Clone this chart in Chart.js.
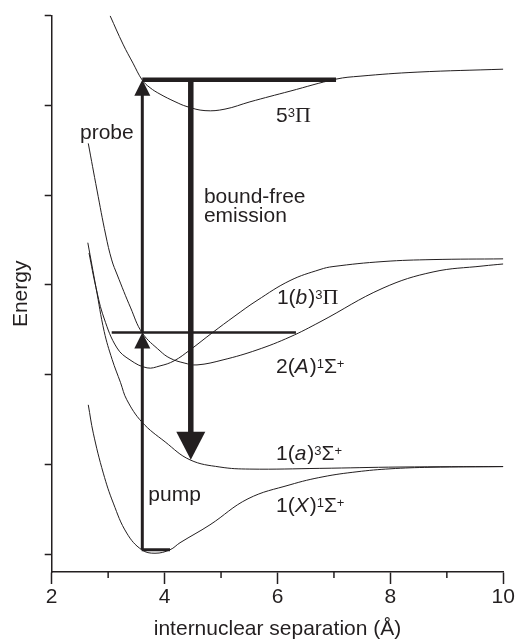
<!DOCTYPE html>
<html>
<head>
<meta charset="utf-8">
<script src="https://cdn.jsdelivr.net/npm/chart.js@4.4.0/dist/chart.umd.min.js"></script>
<style>
  html, body { margin: 0; padding: 0; background: #fff; }
</style>
</head>
<body>
<canvas id="chart" width="516" height="641"></canvas>
<script>
// axis ticks
const xTicks = [2, 3, 4, 5, 6, 7, 8, 9, 10];
const xLabelled = [2, 4, 6, 8, 10];
const yTicks = [0, 1, 2, 3, 4, 5, 6];

// potential curves: [internuclear separation (Å), energy (arb. units)]
const groundX = [[2.648, 1.663], [2.737, 1.347], [2.914, 0.902], [3.091, 0.568], [3.329, 0.234], [3.594, 0.048],
  [3.83, 0.009], [4.096, 0.048], [4.273, 0.126], [4.804, 0.326], [5.477, 0.616], [6.222, 0.772], [6.806, 0.861],
  [7.408, 0.917], [7.993, 0.95], [8.702, 0.967], [10, 0.975]];
const tripletA = [[2.64, 3.47], [2.785, 2.97], [2.93, 2.48], [3.07, 2.17], [3.22, 1.91], [3.33, 1.72], [3.6, 1.47],
  [4.01, 1.25], [4.45, 1.05], [4.98, 0.97], [5.51, 0.947], [6.75, 0.955], [8.17, 0.97], [10, 0.975]];
const singletA = [[2.648, 4.577], [2.802, 4.057], [2.957, 3.556], [3.063, 3.278], [3.162, 3.11], [3.399, 2.743],
  [3.605, 2.464], [3.919, 2.264], [4.096, 2.183], [4.344, 2.13], [4.574, 2.108], [5.035, 2.164], [5.637, 2.275],
  [6.222, 2.42], [6.753, 2.587], [7.869, 2.964], [8.755, 3.144], [9.641, 3.211], [10, 3.233]];
const tripletB = [[2.661, 3.355], [2.785, 2.968], [2.926, 2.631], [3.157, 2.297], [3.387, 2.164], [3.69, 2.075],
  [3.919, 2.097], [4.167, 2.153], [4.45, 2.275], [4.84, 2.464], [5.247, 2.654], [5.637, 2.826], [6.222, 3.048],
  [6.753, 3.171], [6.983, 3.204], [7.869, 3.26], [8.755, 3.282], [10, 3.29]];
const pi5 = [[3.034, 6.0], [3.263, 5.683], [3.44, 5.471], [3.605, 5.282], [3.741, 5.198], [3.919, 5.126],
  [4.184, 5.042], [4.397, 4.987], [4.716, 4.942], [5.07, 4.959], [5.512, 5.04], [6.222, 5.159], [7.037, 5.293],
  [7.462, 5.326], [8.472, 5.371], [10, 5.404]];

// energy levels and transitions
const groundLevel = [[3.594, 0.048], [4.096, 0.048]];
const pumpLevel = [[3.063, 2.468], [6.327, 2.468]];
const probeLevel = [[3.605, 5.285], [7.037, 5.285]];
const pumpArrow = [[3.605, 0.048], [3.605, 2.468]];
const probeArrow = [[3.605, 2.468], [3.605, 5.285]];
const emissionArrow = [[4.464, 5.285], [4.464, 1.05]];

// text labels (n = normal, i = italic, s = superscript, g = greek)
const notes = [
  { x: 2.501, y: 4.625, runs: [['probe', 'n']] },
  { x: 4.697, y: 3.912, runs: [['bound-free', 'n']] },
  { x: 4.697, y: 3.701, runs: [['emission', 'n']] },
  { x: 3.711, y: 0.593, runs: [['pump', 'n']] },
  { x: 5.973, y: 4.817, runs: [['5', 'n'], ['3', 's'], ['Π', 'g']] },
  { x: 5.99, y: 2.789, runs: [['1(', 'n'], ['b', 'i'], [')', 'n'], ['3', 's'], ['Π', 'g']] },
  { x: 5.973, y: 2.019, runs: [['2(', 'n'], ['A', 'i'], [')', 'n'], ['1', 's'], ['Σ', 'n'], ['+', 's']] },
  { x: 5.973, y: 1.05, runs: [['1(', 'n'], ['a', 'i'], [')', 'n'], ['3', 's'], ['Σ', 'n'], ['+', 's']] },
  { x: 5.973, y: 0.474, runs: [['1(', 'n'], ['X', 'i'], [')', 'n'], ['1', 's'], ['Σ', 'n'], ['+', 's']] }
];

const ink = '#231f20';
const sans = '"Liberation Sans", Arial, Helvetica, sans-serif';
const runFonts = {
  n: '21px ' + sans,
  i: 'italic 21px ' + sans,
  s: '13px ' + sans,
  g: '22px "Liberation Serif", "Times New Roman", serif'
};

Chart.defaults.font.family = sans;
Chart.defaults.color = ink;

const pts = arr => arr.map(([x, y]) => ({ x, y }));

function curve(data) {
  return { data: pts(data), showLine: true, borderColor: ink, borderWidth: 1, pointRadius: 0,
    tension: 0.4, fill: false };
}
function level(data, width) {
  return { data: pts(data), showLine: true, borderColor: ink, borderWidth: width, pointRadius: 0,
    tension: 0, borderCapStyle: 'butt', fill: false };
}
function arrow(data, width, head) {
  return { data: pts(data), showLine: false, pointRadius: 0, borderWidth: width, arrowHead: head };
}

// minor ticks, arrows and labels
const extras = {
  id: 'extras',
  afterDatasetsDraw(chart) {
    const { ctx, scales: { x, y } } = chart;
    ctx.save();

    ctx.strokeStyle = ink;
    ctx.lineWidth = 1.5;
    xTicks.filter(v => !xLabelled.includes(v)).forEach(v => {
      const px = x.getPixelForValue(v);
      ctx.beginPath();
      ctx.moveTo(px, x.top);
      ctx.lineTo(px, x.top + 6);
      ctx.stroke();
    });

    chart.data.datasets.forEach((ds, i) => {
      if (!ds.arrowHead) return;
      const points = chart.getDatasetMeta(i).data;
      const p0 = points[0], p1 = points[points.length - 1];
      const dx = p1.x - p0.x, dy = p1.y - p0.y;
      const len = Math.hypot(dx, dy);
      const ux = dx / len, uy = dy / len;
      const [hw, hl] = ds.arrowHead;
      const bx = p1.x - ux * hl, by = p1.y - uy * hl;
      ctx.strokeStyle = ink;
      ctx.lineWidth = ds.borderWidth;
      ctx.lineCap = 'butt';
      ctx.beginPath();
      ctx.moveTo(p0.x, p0.y);
      ctx.lineTo(bx + ux, by + uy);
      ctx.stroke();
      ctx.fillStyle = ink;
      ctx.beginPath();
      ctx.moveTo(p1.x, p1.y);
      ctx.lineTo(bx - uy * hw / 2, by + ux * hw / 2);
      ctx.lineTo(bx + uy * hw / 2, by - ux * hw / 2);
      ctx.closePath();
      ctx.fill();
    });

    ctx.fillStyle = ink;
    ctx.textBaseline = 'alphabetic';
    ctx.textAlign = 'left';
    notes.forEach(note => {
      let px = x.getPixelForValue(note.x);
      const py = y.getPixelForValue(note.y);
      note.runs.forEach(([text, kind]) => {
        ctx.font = runFonts[kind];
        ctx.fillText(text, px, kind === 's' ? py - 5 : py);
        px += ctx.measureText(text).width + (kind === 'i' ? 1 : 0);
      });
    });
    ctx.restore();
  }
};

new Chart(document.getElementById('chart').getContext('2d'), {
  type: 'scatter',
  data: {
    datasets: [
      curve(groundX),
      curve(tripletA),
      curve(singletA),
      curve(tripletB),
      curve(pi5),
      level(groundLevel, 3),
      level(pumpLevel, 2.5),
      level(probeLevel, 4.5),
      arrow(pumpArrow, 3, [16, 16]),
      arrow(probeArrow, 3, [16, 16]),
      arrow(emissionArrow, 5.5, [29, 28])
    ]
  },
  options: {
    responsive: false,
    devicePixelRatio: 1,
    animation: false,
    events: [],
    layout: { padding: { top: 15.7, right: 12.7, bottom: 0, left: 0 } },
    plugins: { legend: { display: false }, tooltip: { enabled: false } },
    scales: {
      x: {
        type: 'linear',
        min: 2,
        max: 10,
        afterBuildTicks: s => { s.ticks = xTicks.map(v => ({ value: v })); },
        afterFit: s => { s.height = 69; },
        border: { display: true, color: ink, width: 1.5 },
        grid: {
          drawOnChartArea: false,
          tickLength: 12,
          tickWidth: 1.5,
          tickColor: c => (c.tick && xLabelled.includes(c.tick.value)) ? ink : 'rgba(0,0,0,0)'
        },
        ticks: {
          color: ink,
          font: { size: 21 },
          padding: 1,
          maxRotation: 0,
          autoSkip: false,
          callback: v => xLabelled.includes(v) ? String(v) : ''
        },
        title: {
          display: true,
          text: 'internuclear separation (Å)',
          color: ink,
          font: { size: 21, lineHeight: 1 },
          padding: { top: 0, bottom: 1 }
        }
      },
      y: {
        type: 'linear',
        min: -0.2,
        max: 6,
        afterBuildTicks: s => { s.ticks = yTicks.map(v => ({ value: v })); },
        afterFit: s => { s.width = 51.7; },
        border: { display: true, color: ink, width: 1.5 },
        grid: { drawOnChartArea: false, tickLength: 7, tickWidth: 1.5, tickColor: ink },
        ticks: { display: false },
        title: {
          display: true,
          text: 'Energy',
          color: ink,
          font: { size: 21, lineHeight: 1 },
          padding: { top: 10.5, bottom: 0 }
        }
      }
    }
  },
  plugins: [extras]
});
</script>
</body>
</html>
